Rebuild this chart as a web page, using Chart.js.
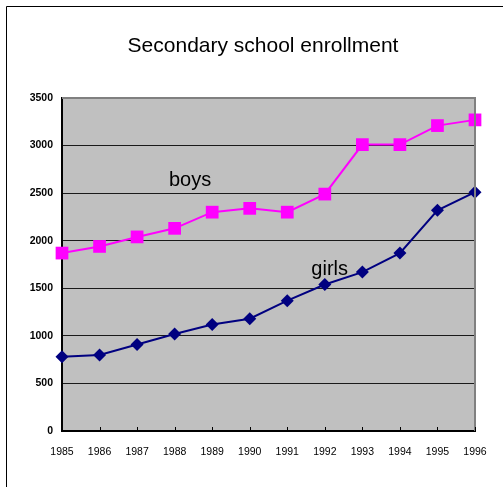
<!DOCTYPE html>
<html>
<head>
<meta charset="utf-8">
<script src="https://cdn.jsdelivr.net/npm/chart.js@4.4.1/dist/chart.umd.min.js"></script>
<style>
  html, body { margin: 0; padding: 0; background: #ffffff; }
  #wrap { width: 503px; height: 487px; position: relative; }
</style>
</head>
<body>
<div id="wrap"><canvas id="c" width="503" height="487"></canvas></div>
<script>
const chartTitle = "Secondary school enrollment";
const years = ["1985","1986","1987","1988","1989","1990","1991","1992","1993","1994","1995","1996"];
const boys  = [1870, 1940, 2040, 2130, 2300, 2340, 2300, 2490, 3010, 3010, 3210, 3270];
const girls = [780, 800, 910, 1020, 1120, 1180, 1370, 1540, 1670, 1870, 2320, 2510];
const seriesNames = ["boys", "girls"];
// annotation anchors in data space: [category index, value]
const boysLabelAt  = [3.41, 2572];
const girlsLabelAt = [7.13, 1642];
const yMin = 0, yMax = 3500, yStep = 500;

const FONT = "'Liberation Sans', Arial, sans-serif";

const framePlugin = {
  id: 'frame',
  beforeDraw(chart) {
    const ctx = chart.ctx;
    const a = chart.chartArea;
    ctx.save();
    // outer frame (top and left edges visible)
    ctx.strokeStyle = '#000000';
    ctx.lineWidth = 1;
    ctx.beginPath();
    ctx.moveTo(6.5, 487);
    ctx.lineTo(6.5, 6.5);
    ctx.lineTo(503, 6.5);
    ctx.stroke();
    // chart title
    ctx.fillStyle = '#000000';
    ctx.font = "21px " + FONT;
    ctx.textAlign = 'center';
    ctx.textBaseline = 'alphabetic';
    ctx.fillText(chartTitle, 263, 52);
    // plot background
    ctx.fillStyle = '#C0C0C0';
    ctx.fillRect(a.left, a.top, a.right - a.left, a.bottom - a.top);
    ctx.restore();
  },
  afterDatasetsDraw(chart) {
    const ctx = chart.ctx;
    const a = chart.chartArea;
    const xs = chart.scales.x, ys = chart.scales.y;
    ctx.save();
    // gray top/right plot border
    ctx.strokeStyle = '#808080';
    ctx.lineWidth = 2;
    ctx.beginPath();
    ctx.moveTo(a.left, a.top);
    ctx.lineTo(a.right, a.top);
    ctx.lineTo(a.right, a.bottom);
    ctx.stroke();
    // inner tick marks on x axis
    ctx.strokeStyle = '#000000';
    ctx.lineWidth = 1;
    ctx.beginPath();
    for (let i = 1; i < years.length; i++) {
      const px = Math.round(xs.getPixelForValue(i)) + 0.5;
      ctx.moveTo(px, a.bottom);
      ctx.lineTo(px, a.bottom - 4);
    }
    ctx.stroke();
    // series text labels
    ctx.fillStyle = '#000000';
    ctx.font = "20px " + FONT;
    ctx.textAlign = 'center';
    ctx.textBaseline = 'alphabetic';
    ctx.fillText(seriesNames[0], xs.getPixelForValue(boysLabelAt[0]), ys.getPixelForValue(boysLabelAt[1]));
    ctx.fillText(seriesNames[1], xs.getPixelForValue(girlsLabelAt[0]), ys.getPixelForValue(girlsLabelAt[1]));
    ctx.restore();
  }
};

new Chart(document.getElementById('c'), {
  type: 'line',
  data: {
    labels: years,
    datasets: [
      {
        label: seriesNames[0],
        data: boys,
        borderColor: '#FF00FF',
        backgroundColor: '#FF00FF',
        borderWidth: 2,
        pointStyle: 'rect',
        pointRadius: 9,
        pointHoverRadius: 9,
        pointBorderWidth: 0,
        tension: 0,
        clip: false
      },
      {
        label: seriesNames[1],
        data: girls,
        borderColor: '#000080',
        backgroundColor: '#000080',
        borderWidth: 2,
        pointStyle: 'rectRot',
        pointRadius: 6.5,
        pointHoverRadius: 6.5,
        pointBorderWidth: 0,
        tension: 0,
        clip: false
      }
    ]
  },
  options: {
    responsive: false,
    animation: false,
    devicePixelRatio: 1,
    layout: { padding: { left: 0, right: 28, top: 98, bottom: 0 } },
    plugins: {
      legend: { display: false },
      tooltip: { enabled: false },
      title: { display: false }
    },
    scales: {
      x: {
        type: 'category',
        offset: false,
        grid: { display: false, drawTicks: false },
        border: { display: true, color: '#000000', width: 2 },
        ticks: {
          color: '#000000',
          font: { family: FONT, size: 10.5 },
          padding: 15,
          maxRotation: 0,
          autoSkip: false
        },
        afterFit(scale) { scale.height = 56; }
      },
      y: {
        min: yMin,
        max: yMax,
        grid: { color: '#1a1a1a', lineWidth: 1, drawTicks: false },
        border: { display: true, color: '#000000', width: 2 },
        ticks: {
          stepSize: yStep,
          color: '#000000',
          font: { family: FONT, size: 10.5, weight: 'bold' },
          padding: 9,
          callback: (v) => String(v)
        },
        afterFit(scale) { scale.width = 62; }
      }
    }
  },
  plugins: [framePlugin]
});
</script>
</body>
</html>
